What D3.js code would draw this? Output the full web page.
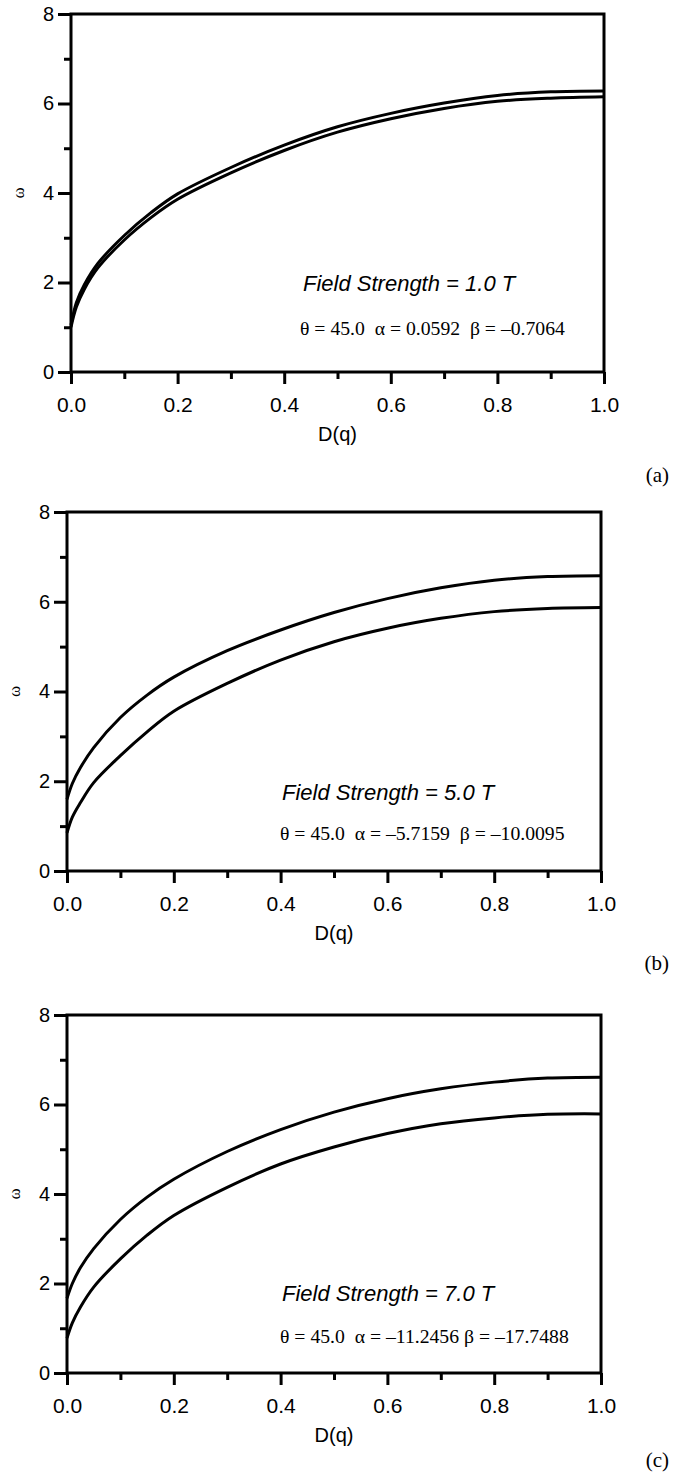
<!DOCTYPE html>
<html>
<head>
<meta charset="utf-8">
<script src="https://cdn.jsdelivr.net/npm/d3@7"></script>
<style>
  body { margin: 0; background: #fff; }
  svg { display: block; }
  .tick text { font-family: "Liberation Sans", Arial, sans-serif; fill: #000; }
  .domain, .tick line { stroke: #000; }
</style>
</head>
<body>
<svg id="chart" width="674" height="1477"></svg>
<script>
// D(q) sample points shared by all panels
const dq = [0, 0.01, 0.025, 0.05, 0.1, 0.15, 0.2, 0.3, 0.4, 0.5, 0.6, 0.7, 0.8, 0.9, 1.0];

// omega, panel (a) 1.0 T
const upperA = [1.05, 1.55, 1.95, 2.42, 3.05, 3.56, 3.98, 4.57, 5.07, 5.48, 5.78, 6.01, 6.18, 6.26, 6.28];
const lowerA = [1.0, 1.45, 1.85, 2.32, 2.95, 3.45, 3.86, 4.45, 4.95, 5.36, 5.66, 5.89, 6.05, 6.12, 6.15];
// omega, panel (b) 5.0 T
const upperB = [1.6, 1.95, 2.3, 2.75, 3.42, 3.92, 4.32, 4.91, 5.37, 5.76, 6.07, 6.31, 6.48, 6.56, 6.58];
const lowerB = [0.85, 1.2, 1.52, 1.97, 2.57, 3.1, 3.56, 4.18, 4.70, 5.11, 5.41, 5.63, 5.78, 5.85, 5.87];
// omega, panel (c) 7.0 T
const upperC = [1.67, 2.0, 2.35, 2.78, 3.43, 3.93, 4.33, 4.95, 5.44, 5.83, 6.13, 6.35, 6.5, 6.59, 6.61];
const lowerC = [0.78, 1.12, 1.47, 1.92, 2.55, 3.08, 3.52, 4.15, 4.67, 5.05, 5.35, 5.57, 5.70, 5.78, 5.79];

const xMajor = [0, 0.2, 0.4, 0.6, 0.8, 1.0];
const xMinor = [0.1, 0.3, 0.5, 0.7, 0.9];
const yMajor = [0, 2, 4, 6, 8];
const yMinor = [1, 3, 5, 7];

const fieldLabels = ['Field Strength = 1.0 T', 'Field Strength = 5.0 T', 'Field Strength = 7.0 T'];
const paramLabels = [
  'θ = 45.0  α = 0.0592  β = –0.7064',
  'θ = 45.0  α = –5.7159  β = –10.0095',
  'θ = 45.0  α = –11.2456 β = –17.7488'
];
const panelTags = ['(a)', '(b)', '(c)'];

// layout per panel (pixel boxes)
const layout = [
  { left: 71, right: 604, top: 14, bottom: 372, fx: 303, fy: 283, px: 300, py: 328, tagY: 482 },
  { left: 67, right: 601, top: 512, bottom: 871, fx: 282, fy: 792, px: 280, py: 833, tagY: 970 },
  { left: 67, right: 601, top: 1015, bottom: 1373, fx: 282, fy: 1293, px: 280, py: 1336, tagY: 1467 }
];

const series = [[upperA, lowerA], [upperB, lowerB], [upperC, lowerC]];

const svg = d3.select('#chart');

layout.forEach((p, i) => {
  let x = d3.scaleLinear().domain([0, 1]).range([p.left, p.right]);
  let y = d3.scaleLinear().domain([0, 8]).range([p.bottom, p.top]);

  let g = svg.append('g').attr('class', 'panel');

  // frame
  g.append('rect')
    .attr('x', p.left).attr('y', p.top)
    .attr('width', p.right - p.left).attr('height', p.bottom - p.top)
    .attr('fill', 'none').attr('stroke', '#000').attr('stroke-width', 3);

  // minor ticks
  g.append('g')
    .attr('transform', `translate(0, ${p.bottom})`)
    .call(d3.axisBottom(x).tickValues(xMinor).tickSize(7).tickFormat(''))
    .call(s => s.select('.domain').remove())
    .selectAll('line').attr('stroke-width', 3);
  g.append('g')
    .attr('transform', `translate(${p.left}, 0)`)
    .call(d3.axisLeft(y).tickValues(yMinor).tickSize(7).tickFormat(''))
    .call(s => s.select('.domain').remove())
    .selectAll('line').attr('stroke-width', 3);

  // major ticks + labels
  let xa = g.append('g')
    .attr('transform', `translate(0, ${p.bottom})`)
    .call(d3.axisBottom(x).tickValues(xMajor).tickSize(12).tickPadding(13).tickFormat(d3.format('.1f')));
  xa.select('.domain').remove();
  xa.selectAll('line').attr('stroke-width', 3);
  xa.selectAll('text').attr('font-size', 21);

  let ya = g.append('g')
    .attr('transform', `translate(${p.left}, 0)`)
    .call(d3.axisLeft(y).tickValues(yMajor).tickSize(13).tickPadding(4).tickFormat(d3.format('d')));
  ya.select('.domain').remove();
  ya.selectAll('line').attr('stroke-width', 3);
  ya.selectAll('text').attr('font-size', 20);

  // curves
  let line = d3.line()
    .x((d, k) => x(dq[k]))
    .y(d => y(d))
    .curve(d3.curveCatmullRom.alpha(0.5));

  series[i].forEach(vals => {
    g.append('path')
      .datum(vals)
      .attr('d', line)
      .attr('fill', 'none')
      .attr('stroke', '#000')
      .attr('stroke-width', 3);
  });

  // annotations
  g.append('text')
    .attr('x', p.fx).attr('y', p.fy).attr('dy', '0.35em')
    .attr('font-family', '"Liberation Sans", Arial, sans-serif')
    .attr('font-style', 'italic')
    .attr('font-size', 22)
    .text(fieldLabels[i]);

  g.append('text')
    .attr('x', p.px).attr('y', p.py).attr('dy', '0.35em')
    .attr('font-family', '"Liberation Serif", "Times New Roman", serif')
    .attr('font-size', 19.7)
    .style('white-space', 'pre')
    .text(paramLabels[i]);

  // axis titles
  g.append('text')
    .attr('transform', `translate(${p.left - 53}, ${(p.top + p.bottom) / 2}) rotate(-90)`)
    .attr('text-anchor', 'middle').attr('dy', '0.35em')
    .attr('font-family', '"Liberation Serif", serif')
    .attr('font-size', 17)
    .text('ω');

  g.append('text')
    .attr('x', (p.left + p.right) / 2).attr('y', p.bottom + 62).attr('dy', '0.35em')
    .attr('text-anchor', 'middle')
    .attr('font-family', '"Liberation Sans", Arial, sans-serif')
    .attr('font-size', 20)
    .text('D(q)');

  g.append('text')
    .attr('x', 669).attr('y', p.tagY)
    .attr('text-anchor', 'end')
    .attr('font-family', '"Liberation Serif", "Times New Roman", serif')
    .attr('font-size', 21)
    .text(panelTags[i]);
});
</script>
</body>
</html>
